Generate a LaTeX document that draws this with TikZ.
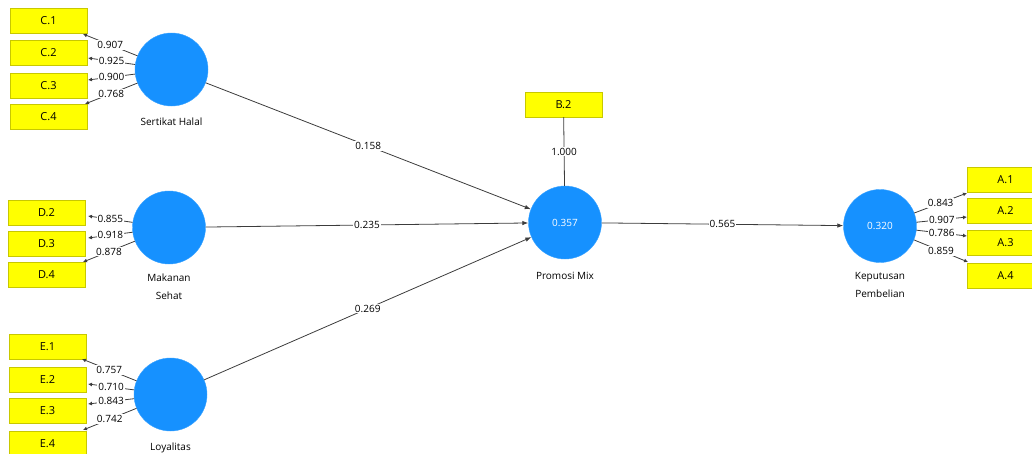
\documentclass[tikz,border=0pt]{standalone}
\usepackage{fontspec}
\setmainfont{Open Sans}
\usetikzlibrary{positioning, arrows.meta}

\definecolor{itemfill}{RGB}{255,255,0}
\definecolor{itemline}{RGB}{200,200,0}
\definecolor{latentfill}{RGB}{22,145,255}
\definecolor{edgegray}{RGB}{60,60,60}

\begin{document}
\begin{tikzpicture}[
    x=1pt, y=-1pt,
    font=\fontsize{10}{18}\selectfont,
    item/.style={draw=itemline, fill=itemfill, minimum width=77pt,
      minimum height=25pt, inner sep=0pt, font=\fontsize{11}{13}\selectfont},
    latent/.style={circle, fill=latentfill, draw=latentfill!85!white,
      minimum size=73pt, inner sep=0pt, text=white},
    struct/.style={draw=edgegray, line width=0.8pt, -{Latex[length=6pt,width=4.5pt]}},
    loadarrow/.style={draw=edgegray, line width=0.8pt, -{Latex[length=4pt,width=4pt]}},
    coef/.style={fill=white, inner sep=1pt},
    caption/.style={align=center, inner sep=0pt},
  ]
  \useasboundingbox (0,0) rectangle (1032,453);

  % latent variables
  \node[latent] (sh) at (171.5,69.5) {};
  \node[latent] (mk) at (169,227.5) {};
  \node[latent] (ly) at (170.5,394.5) {};
  \node[latent] (pm) at (565,222.5) {0.357};
  \node[latent] (kp) at (880,226) {0.320};

  \node[caption, below=11pt of sh] (shlbl) {Sertikat Halal};
  \node[caption, below=9pt of mk] (mklbl) {Makanan\\Sehat};
  \node[caption, below=11pt of ly] (lylbl) {Loyalitas};
  \node[caption, below=13pt of pm] (pmlbl) {Promosi Mix};
  \node[caption, below=9pt of kp] (kplbl) {Keputusan\\Pembelian};

  % indicators
  \node[item] (c1) at (48.5,21) {C.1};
  \node[item] (c2) at (48.5,52.5) {C.2};
  \node[item] (c3) at (48.5,85.5) {C.3};
  \node[item] (c4) at (48.5,116.5) {C.4};

  \node[item] (d2) at (46.5,212.5) {D.2};
  \node[item] (d3) at (46.5,244) {D.3};
  \node[item] (d4) at (46.5,275) {D.4};

  \node[item] (e1) at (47.5,346.5) {E.1};
  \node[item] (e2) at (47.5,380) {E.2};
  \node[item] (e3) at (47.5,410.5) {E.3};
  \node[item] (e4) at (47.5,443.5) {E.4};

  \node[item] (b2) at (563.5,104.5) {B.2};

  \node[item] (a1) at (1005.5,180) {A.1};
  \node[item] (a2) at (1005.5,211) {A.2};
  \node[item] (a3) at (1005.5,243) {A.3};
  \node[item] (a4) at (1005.5,276) {A.4};

  % arrow ends at the indicators
  \coordinate (c1e) at (83,34);
  \coordinate (c2e) at (88,58);
  \coordinate (c3e) at (88,80);
  \coordinate (c4e) at (85,104);
  \coordinate (d2e) at (88,216);
  \coordinate (d3e) at (88,238);
  \coordinate (d4e) at (83,262);
  \coordinate (e1e) at (82,359);
  \coordinate (e2e) at (88,384);
  \coordinate (e3e) at (88,404);
  \coordinate (e4e) at (83,430);
  \coordinate (a1e) at (967,193);
  \coordinate (a2e) at (967,217);
  \coordinate (a3e) at (967,236);
  \coordinate (a4e) at (968,262);

  % outer loadings
  \draw[loadarrow] (sh) -- node[coef] {0.907} (c1e);
  \draw[loadarrow] (sh) -- node[coef] {0.925} (c2e);
  \draw[loadarrow] (sh) -- node[coef] {0.900} (c3e);
  \draw[loadarrow] (sh) -- node[coef] {0.768} (c4e);

  \draw[loadarrow] (mk) -- node[coef] {0.855} (d2e);
  \draw[loadarrow] (mk) -- node[coef] {0.918} (d3e);
  \draw[loadarrow] (mk) -- node[coef] {0.878} (d4e);

  \draw[loadarrow] (ly) -- node[coef] {0.757} (e1e);
  \draw[loadarrow] (ly) -- node[coef] {0.710} (e2e);
  \draw[loadarrow] (ly) -- node[coef] {0.843} (e3e);
  \draw[loadarrow] (ly) -- node[coef] {0.742} (e4e);

  \draw[loadarrow] (kp) -- node[coef] {0.843} (a1e);
  \draw[loadarrow] (kp) -- node[coef] {0.907} (a2e);
  \draw[loadarrow] (kp) -- node[coef] {0.786} (a3e);
  \draw[loadarrow] (kp) -- node[coef] {0.859} (a4e);

  \draw[draw=edgegray, line width=0.8pt] (b2) -- node[coef] {1.000} (pm);

  % inner model
  \draw[struct] (sh) -- node[coef] {0.158} (pm);
  \draw[struct] (mk) -- node[coef] {0.235} (pm);
  \draw[struct] (ly) -- node[coef] {0.269} (pm);
  \draw[struct] (pm) -- node[coef] {0.565} (kp);
\end{tikzpicture}
\end{document}
